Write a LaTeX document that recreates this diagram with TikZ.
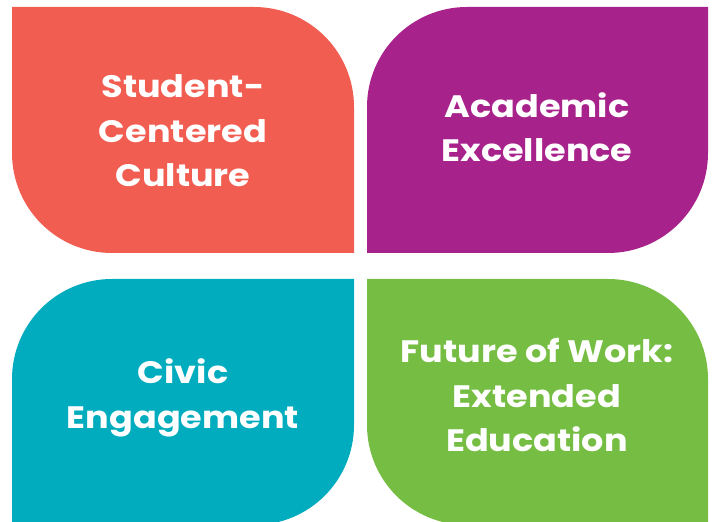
\documentclass[tikz,border=0pt]{standalone}
\usepackage{fontspec}
\setmainfont{Poppins}[BoldFont={* Bold}, FakeStretch=1.13]
\definecolor{cOrange}{HTML}{F15D50}
\definecolor{cPurple}{HTML}{A8228C}
\definecolor{cTeal}{HTML}{00ACBE}
\definecolor{cGreen}{HTML}{76BE43}
\tikzset{
  petal/.style={fill=#1, draw=none},
  label/.style={text=white, align=center, inner sep=0pt,
    font=\bfseries\fontsize{31}{44.5}\selectfont}
}
\begin{document}
\begin{tikzpicture}[x=1pt,y=1pt]
\useasboundingbox (0,0) rectangle (715,522);
\clip (0,0) rectangle (715,522);
% orange
\path[petal=cOrange] (12,515) -- (254,515) arc[start angle=90,end angle=0,radius=100]
  -- (354,269) -- (112,269) arc[start angle=270,end angle=180,radius=100] -- cycle;
% purple
\path[petal=cPurple] (367,269) -- (367,415) arc[start angle=180,end angle=90,radius=100]
  -- (708,515) -- (708,369) arc[start angle=0,end angle=-90,radius=100] -- cycle;
% teal
\path[petal=cTeal] (12,-3) -- (12,143) arc[start angle=180,end angle=90,radius=100]
  -- (354,243) -- (354,97) arc[start angle=0,end angle=-90,radius=100] -- cycle;
% green
\path[petal=cGreen] (367,243) -- (608,243) arc[start angle=90,end angle=0,radius=100]
  -- (708,-3) -- (467,-3) arc[start angle=270,end angle=180,radius=100] -- cycle;
\node[label] (t1) at (183,391) {Student-\\Centered\\Culture};
\node[label] (t2) at (537,395) {Academic\\Excellence};
\node[label] (t3) at (183,124) {Civic\\Engagement};
\node[label] (t4) at (537,127) {Future of Work:\\Extended\\Education};
\end{tikzpicture}
\end{document}
